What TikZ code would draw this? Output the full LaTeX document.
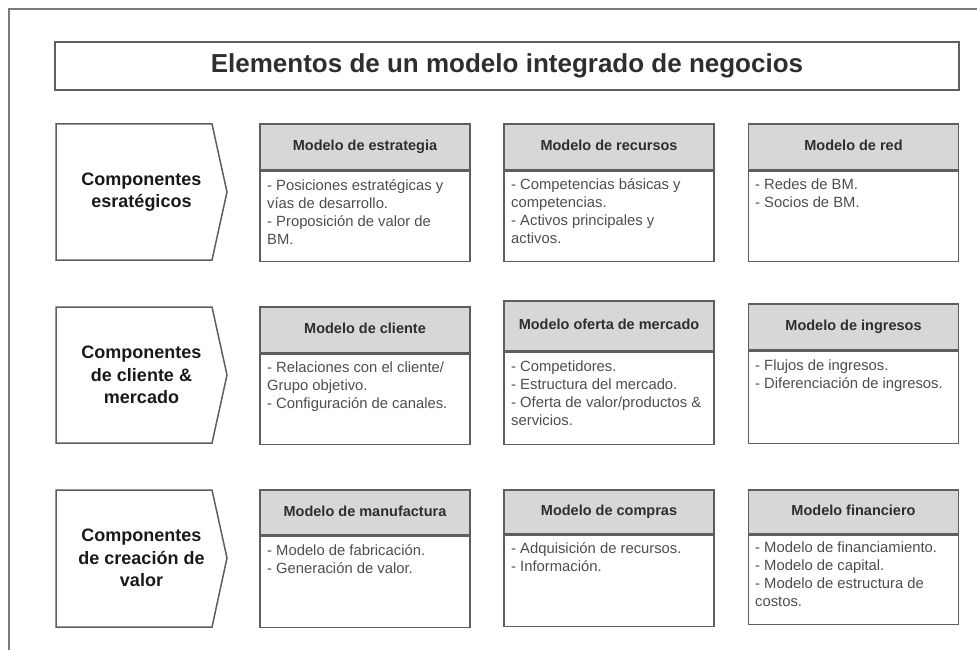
\documentclass[tikz,border=0pt]{standalone}
\usepackage{fontspec}
\setmainfont{Liberation Sans}
\usetikzlibrary{positioning}
\definecolor{linegray}{HTML}{5E5E5E}
\definecolor{headgray}{HTML}{D7D7D7}
\definecolor{framegray}{HTML}{7A7A7A}
\definecolor{inkgray}{HTML}{2E2E2E}
\tikzset{
  box/.style={draw=linegray, line width=1.5pt},
  head/.style={box, fill=headgray, minimum width=210pt, minimum height=46pt, inner sep=0pt,
    text height=10.5pt, text depth=3pt, text=inkgray, font=\fontsize{14.5}{17}\selectfont\bfseries},
  bodybox/.style={box, minimum width=210pt, inner sep=0pt},
  itemtext/.style={anchor=north west, align=left, inner sep=0pt, text=inkgray!85,
    font=\fontsize{14.8}{18}\selectfont, execute at begin node=\strut},
  sidetext/.style={align=center, inner sep=0pt, text=black!90,
    font=\fontsize{18}{22.5}\selectfont\bfseries},
  titlebox/.style={box, minimum width=904pt, minimum height=48pt, inner sep=0pt,
    text=inkgray, font=\fontsize{26}{30}\selectfont\bfseries}
}
\begin{document}
\begin{tikzpicture}[x=1pt,y=-1pt]
\useasboundingbox (0,0) rectangle (977,650);

\draw[framegray, line width=1.2pt] (977,9) -- (9,9) -- (9,650);
\node[titlebox] (title) at (507,66) {Elementos de un modelo integrado de negocios};

\draw[box] (56,124) -- (212,124) -- (227,192) -- (212,260) -- (56,260) -- cycle;
\node[sidetext] (estrat) at (141.5,192) {Componentes\\esratégicos};

\node[head] (estrategia) at (365,147) {Modelo de estrategia};
\node[bodybox, below=0pt of estrategia, minimum height=90pt] (estrategiab) {};
\node[itemtext] (estrategiat) at (267,179.4) {- Posiciones estratégicas y\\vías de desarrollo.\\- Proposición de valor de\\BM.};

\node[head] (recursos) at (609,147) {Modelo de recursos};
\node[bodybox, below=0pt of recursos, minimum height=90pt] (recursosb) {};
\node[itemtext] (recursost) at (511,178.4) {- Competencias básicas y\\competencias.\\- Activos principales y\\activos.};

\node[head] (red) at (853.5,147) {Modelo de red};
\node[bodybox, below=0pt of red, minimum height=90pt] (redb) {};
\node[itemtext] (redt) at (755,178.4) {- Redes de BM.\\- Socios de BM.};

\draw[box] (56,307) -- (212,307) -- (227,375) -- (212,443) -- (56,443) -- cycle;
\node[sidetext] (clmerc) at (141.5,375) {Componentes\\de cliente \&\\mercado};

\node[head] (cliente) at (365,330) {Modelo de cliente};
\node[bodybox, below=0pt of cliente, minimum height=90pt] (clienteb) {};
\node[itemtext] (clientet) at (267,361.4) {- Relaciones con el cliente/\\Grupo objetivo.\\- Configuración de canales.};

\node[head, minimum height=50pt] (oferta) at (609,326) {Modelo oferta de mercado};
\node[bodybox, below=0pt of oferta, minimum height=92pt] (ofertab) {};
\node[itemtext] (ofertat) at (511,360.4) {- Competidores.\\- Estructura del mercado.\\- Oferta de valor/productos \&\\servicios.};

\node[head] (ingresos) at (853.5,327) {Modelo de ingresos};
\node[bodybox, below=0pt of ingresos, minimum height=92pt] (ingresosb) {};
\node[itemtext] (ingresost) at (755,359.4) {- Flujos de ingresos.\\- Diferenciación de ingresos.};

\draw[box] (56,490) -- (212,490) -- (227,558) -- (212,627) -- (56,627) -- cycle;
\node[sidetext] (creval) at (141.5,558) {Componentes\\de creación de\\valor};

\node[head, minimum height=45pt] (manufactura) at (365,512.5) {Modelo de manufactura};
\node[bodybox, below=0pt of manufactura, minimum height=91pt] (manufacturab) {};
\node[itemtext] (manufacturat) at (267,544.4) {- Modelo de fabricación.\\- Generación de valor.};

\node[head, minimum height=44pt] (compras) at (609,512) {Modelo de compras};
\node[bodybox, below=0pt of compras, minimum height=91pt] (comprasb) {};
\node[itemtext] (comprast) at (511,542.4) {- Adquisición de recursos.\\- Información.};

\node[head, minimum height=44pt] (financiero) at (853.5,512) {Modelo financiero};
\node[bodybox, below=0pt of financiero, minimum height=89pt] (financierob) {};
\node[itemtext] (financierot) at (755,541.4) {- Modelo de financiamiento.\\- Modelo de capital.\\- Modelo de estructura de\\costos.};

\end{tikzpicture}
\end{document}
